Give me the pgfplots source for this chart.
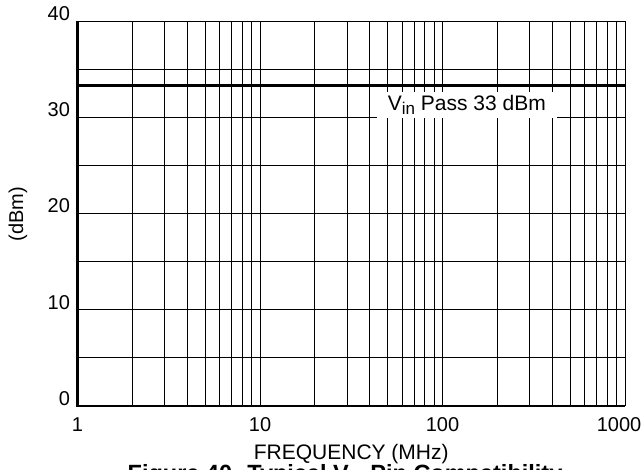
\documentclass[border=0pt]{standalone}
\usepackage{fontspec}
\setmainfont{Liberation Sans}
\usepackage{pgfplots}
\pgfplotsset{compat=1.18}
\begin{document}
\begin{tikzpicture}
\begin{axis}[
  at={(0pt,0pt)}, anchor=south west,
  scale only axis, width=547.5pt, height=384.7pt,
  xmode=log, log basis x=10,
  xmin=1, xmax=1000, ymin=0, ymax=40,
  xtick={1,10,100,1000}, xticklabels={1,10,100,\hspace*{-12pt}1000},
  minor xtick={2,3,4,5,6,7,8,9,20,30,40,50,60,70,80,90,200,300,400,500,600,700,800,900},
  ytick={0,10,20,30,40},
  minor ytick={5,15,25,35},
  grid=both,
  major grid style={black, line width=0.9pt},
  minor grid style={black, line width=0.9pt},
  major tick length=0pt, minor tick length=0pt,
  axis line style={black, line width=0.9pt},
  tick label style={font=\fontsize{20}{22}\selectfont},
  /pgf/number format/assume math mode=true,
  xticklabel style={anchor=base, yshift=-26pt},
  yticklabel style={anchor=base east, xshift=-4pt, yshift=0.5pt},
  xlabel={FREQUENCY (MHz)},
  label style={font=\fontsize{21}{23}\selectfont},
  xlabel style={at={(axis description cs:0.5,0)}, anchor=base, yshift=-54pt},
  clip=false,
]
\addplot[black, line width=3pt, forget plot] coordinates {(1,33.3) (1012,33.3)};
\node[fill=white, minimum width=180pt, minimum height=26pt, inner sep=0pt,
      font=\fontsize{21}{23}\selectfont] at (axis cs:136,31.3)
  {V\raisebox{-0.4ex}{\fontsize{17}{18}\selectfont in} Pass 33 dBm};
\draw[black, line width=2.2pt] (rel axis cs:0,1) -- (rel axis cs:0,0) -- (rel axis cs:1,0);
\end{axis}
\node[rotate=90, anchor=center, font=\fontsize{20}{22}\selectfont] at (-59.5pt,191.7pt) {(dBm)};
\node[anchor=base, font=\bfseries\fontsize{23.5}{25}\selectfont] at (267.5pt,-76pt)
  {Figure 40. Typical V\raisebox{-0.4ex}{\fontsize{17}{18}\selectfont in} Pin Compatibility};
\pgfresetboundingbox
\path[use as bounding box] (-77.5pt,-63.3pt) rectangle (566.5pt,405.7pt);
\end{tikzpicture}
\end{document}
